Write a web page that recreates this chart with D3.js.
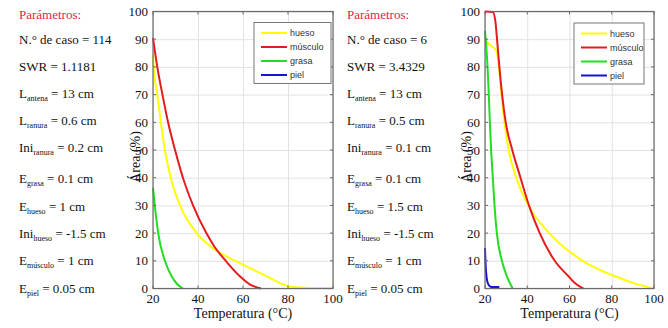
<!DOCTYPE html>
<html>
<head>
<meta charset="utf-8">
<script src="https://cdn.jsdelivr.net/npm/d3@7"></script>
</head>
<body style="margin:0">
<svg id="chart" width="668" height="328"></svg>
<script>
// parameter lists (text between _{ } is subscript)
const paramsLeft = [
  "N.° de caso = 114", "SWR = 1.1181", "L_{antena} = 13 cm", "L_{ranura} = 0.6 cm",
  "Ini_{ranura} = 0.2 cm", "E_{grasa} = 0.1 cm", "E_{hueso} = 1 cm",
  "Ini_{hueso} = -1.5 cm", "E_{músculo} = 1 cm", "E_{piel} = 0.05 cm"
]
const paramsRight = [
  "N.° de caso = 6", "SWR = 3.4329", "L_{antena} = 13 cm", "L_{ranura} = 0.5 cm",
  "Ini_{ranura} = 0.1 cm", "E_{grasa} = 0.1 cm", "E_{hueso} = 1.5 cm",
  "Ini_{hueso} = -1.5 cm", "E_{músculo} = 1 cm", "E_{piel} = 0.05 cm"
]

const tissues = ["hueso", "músculo", "grasa", "piel"]
const tissueColors = ["#ffff00", "#e41c1c", "#22dd22", "#1414d4"]
const xTicks = [20, 40, 60, 80, 100]
const yTicks = [0, 10, 20, 30, 40, 50, 60, 70, 80, 90, 100]

// case 114: [temperature °C, area %]
const huesoLeft = [[20, 84.4], [20.3, 80], [21.9, 70], [23.5, 60], [25.3, 50], [27.9, 40], [32, 30], [39.4, 20], [46.8, 14.5], [57.8, 9.5], [70.4, 4.5], [77.8, 1.5], [82, 0.5], [90, 0.2], [100, 0.2]]
const musculoLeft = [[20, 90.5], [21.9, 80], [24.2, 70], [26.7, 60], [29.8, 50], [33.3, 40], [37.8, 30], [43.7, 20], [47.4, 15], [52.3, 10], [58.5, 4.5], [63, 1.5], [68, 0]]
const grasaLeft = [[20, 36.3], [20.8, 30], [22.3, 20], [25.3, 10], [28.2, 4.5], [30.5, 1.8], [33.3, 0]]
const pielLeft = []

// case 6
const huesoRight = [[20, 89.6], [23, 87.5], [25.3, 86], [26.6, 80], [27.8, 70], [29.2, 60], [31.2, 50], [34.8, 40], [40.5, 30], [50.4, 20], [66.2, 10], [81.2, 4.5], [92.3, 1.5], [100, 0]]
const musculoRight = [[20, 100], [23.7, 99.8], [24.9, 96.5], [25.7, 90], [26.8, 80], [28.1, 70], [29.8, 60], [32.9, 50], [36.8, 40], [40.8, 30], [45.9, 20], [53, 10], [59.4, 4.5], [62.5, 2], [66.5, 0]]
const grasaRight = [[20, 93], [21.2, 80], [21.8, 70], [22.3, 60], [22.9, 50], [23.7, 40], [24.5, 30], [25.6, 20], [28, 10], [30.3, 4.5], [33.1, 0]]
const pielRight = [[20, 14.6], [20.4, 7], [21.3, 2], [22.5, 0.7], [23.5, 0.5], [26.8, 0.5]]

const svg = d3.select("#chart")

const rowY = [39, 66, 93, 120, 147, 178, 206, 233, 260, 288]

// every label goes straight onto the svg, with the font set on the text itself
function label(x, y, size, str) {
  return svg.append("text")
    .attr("x", x).attr("y", y)
    .style("font-family", `"Liberation Serif"`)
    .style("font-size", `${size}px`)
    .attr("fill", "#111")
    .text(str)
}

function drawParams(x, list) {
  label(x, 18.5, 13, "Parámetros:").attr("fill", "#d7263d")
  list.forEach((s, i) => {
    const m = s.match(/^(.*?)_\{(.*?)\}(.*)$/)
    if (m) {
      const t = label(x, rowY[i] + 4.5, 13, null)
      t.append("tspan").text(m[1])
      t.append("tspan").style("font-size", "8px").attr("dy", 3).text(m[2])
      t.append("tspan").attr("dy", -3).text(m[3])
    } else {
      label(x, rowY[i] + 4.5, 13, s)
    }
  })
}

function drawPanel(x0, x1, series, legendBox, ylabelX) {
  const y0 = 288.5, y1 = 11.5
  const xScale = d3.scaleLinear().domain([20, 100]).range([x0, x1])
  const yScale = d3.scaleLinear().domain([0, 100]).range([y0, y1])
  const g = svg.append("g")

  // grid
  g.append("g").attr("transform", `translate(0,${y0})`)
    .call(d3.axisBottom(xScale).tickValues(xTicks).tickSize(-(y0 - y1)).tickFormat(""))
    .call(a => a.select(".domain").remove())
    .call(a => a.selectAll("line").attr("stroke", "#e2e2e2"))
  g.append("g").attr("transform", `translate(${x0},0)`)
    .call(d3.axisLeft(yScale).tickValues(yTicks).tickSize(-(x1 - x0)).tickFormat(""))
    .call(a => a.select(".domain").remove())
    .call(a => a.selectAll("line").attr("stroke", "#e2e2e2"))

  // curves
  const line = d3.line()
    .x(d => xScale(d[0]))
    .y(d => yScale(d[1]))
    .curve(d3.curveMonotoneX)
  series.forEach((data, i) => {
    if (!data.length) return
    g.append("path")
      .datum(data)
      .attr("fill", "none")
      .attr("stroke", tissueColors[i])
      .attr("stroke-width", 2)
      .attr("d", line)
  })

  // frame with inward ticks
  g.append("rect")
    .attr("x", x0).attr("y", y1)
    .attr("width", x1 - x0).attr("height", y0 - y1)
    .attr("fill", "none").attr("stroke", "#6a6a6a").attr("stroke-width", 1.2)
  const tk = g.append("g").attr("stroke", "#6a6a6a")
  xTicks.forEach(v => {
    tk.append("line").attr("x1", xScale(v)).attr("x2", xScale(v)).attr("y1", y0).attr("y2", y0 - 3)
    tk.append("line").attr("x1", xScale(v)).attr("x2", xScale(v)).attr("y1", y1).attr("y2", y1 + 3)
  })
  yTicks.forEach(v => {
    tk.append("line").attr("x1", x0).attr("x2", x0 + 3).attr("y1", yScale(v)).attr("y2", yScale(v))
    tk.append("line").attr("x1", x1).attr("x2", x1 - 3).attr("y1", yScale(v)).attr("y2", yScale(v))
  })

  // tick labels
  xTicks.forEach(v => label(xScale(v), y0 + 14, 13, v).attr("text-anchor", "middle"))
  yTicks.forEach(v => label(x0 - 5, yScale(v) + 4.5, 13, v).attr("text-anchor", "end"))

  // axis titles
  label((x0 + x1) / 2, y0 + 29, 14, "Temperatura (°C)").attr("text-anchor", "middle")
  label(0, 0, 14, "Área (%)")
    .attr("transform", `translate(${ylabelX},157) rotate(-90)`)
    .attr("text-anchor", "middle")

  // legend
  const lg = svg.append("g").attr("transform", `translate(${legendBox.x},${legendBox.y})`)
  lg.append("rect")
    .attr("width", legendBox.w).attr("height", 61)
    .attr("fill", "#fff").attr("stroke", "#777").attr("stroke-width", 1)
  tissues.forEach((name, i) => {
    const yy = 10.5 + i * 14
    lg.append("line")
      .attr("x1", 7).attr("x2", 33).attr("y1", yy).attr("y2", yy)
      .attr("stroke", tissueColors[i]).attr("stroke-width", 2)
    lg.append("text")
      .style("font-family", `"Liberation Sans"`).style("font-size", "9px")
      .attr("x", 36).attr("y", yy + 3)
      .attr("fill", "#333")
      .text(name)
  })
}

drawParams(19, paramsLeft)
drawParams(347, paramsRight)
drawPanel(153, 333, [huesoLeft, musculoLeft, grasaLeft, pielLeft], { x: 254, y: 22.5, w: 77 }, 140)
drawPanel(485, 654, [huesoRight, musculoRight, grasaRight, pielRight], { x: 574, y: 23, w: 70 }, 471)
</script>
</body>
</html>
